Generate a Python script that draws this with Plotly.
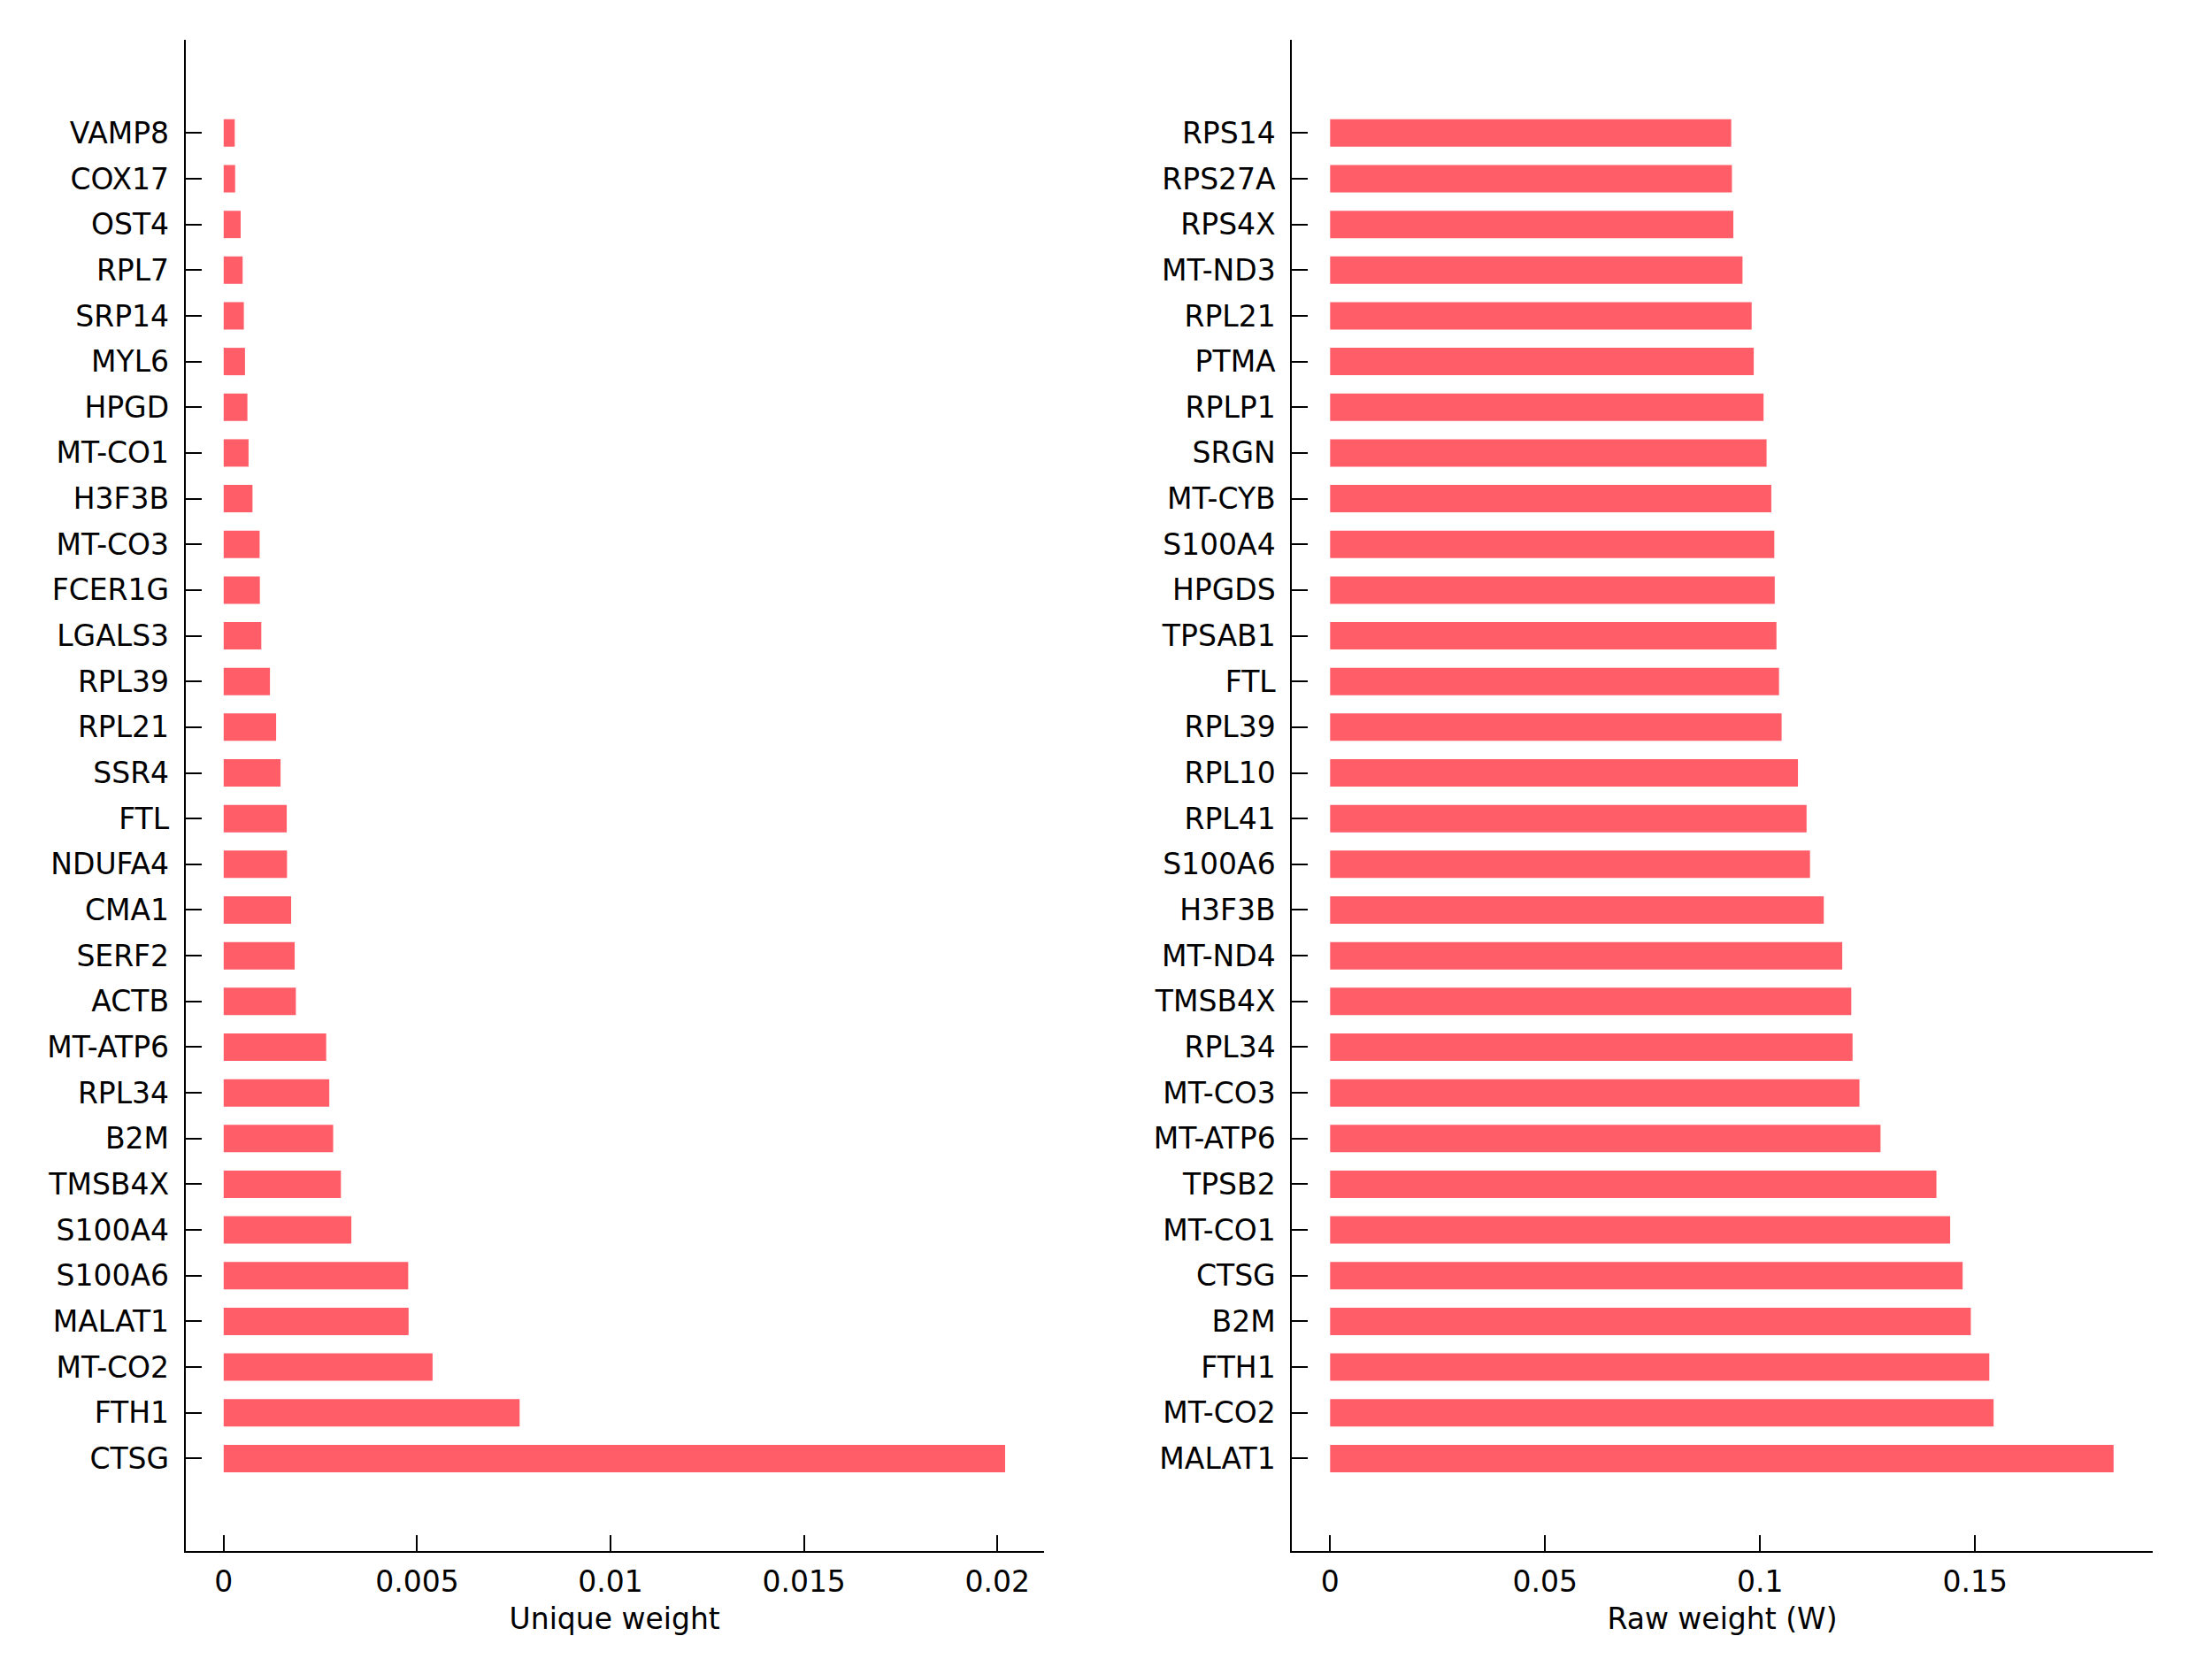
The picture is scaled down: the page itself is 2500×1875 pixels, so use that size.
import plotly.graph_objects as go

# Left panel: unique weight (top-to-bottom order as displayed)
unique_genes = ["VAMP8", "COX17", "OST4", "RPL7", "SRP14", "MYL6", "HPGD", "MT-CO1",
                "H3F3B", "MT-CO3", "FCER1G", "LGALS3", "RPL39", "RPL21", "SSR4", "FTL",
                "NDUFA4", "CMA1", "SERF2", "ACTB", "MT-ATP6", "RPL34", "B2M", "TMSB4X",
                "S100A4", "S100A6", "MALAT1", "MT-CO2", "FTH1", "CTSG"]
unique_values = [0.000286, 0.000296, 0.000439, 0.00049, 0.000521, 0.000551, 0.000613, 0.000643,
                 0.000745, 0.000929, 0.000935, 0.000972, 0.001196, 0.001356, 0.00147, 0.00163,
                 0.001637, 0.001744, 0.001835, 0.001866, 0.00265, 0.00273, 0.00283, 0.00303,
                 0.0033, 0.00477, 0.00478, 0.0054, 0.00765, 0.0202]

# Right panel: raw weight (W) (top-to-bottom order as displayed)
raw_genes = ["RPS14", "RPS27A", "RPS4X", "MT-ND3", "RPL21", "PTMA", "RPLP1", "SRGN",
             "MT-CYB", "S100A4", "HPGDS", "TPSAB1", "FTL", "RPL39", "RPL10", "RPL41",
             "S100A6", "H3F3B", "MT-ND4", "TMSB4X", "RPL34", "MT-CO3", "MT-ATP6", "TPSB2",
             "MT-CO1", "CTSG", "B2M", "FTH1", "MT-CO2", "MALAT1"]
raw_values = [0.09328, 0.09344, 0.09377, 0.0959, 0.09803, 0.09852, 0.1008, 0.1015,
              0.1026, 0.1033, 0.1034, 0.1038, 0.1044, 0.105, 0.1088, 0.1108,
              0.1116, 0.1148, 0.1191, 0.1212, 0.1215, 0.1231, 0.128, 0.141,
              0.1442, 0.1471, 0.149, 0.1533, 0.1543, 0.1822]

unique_ticks = [0, 0.005, 0.01, 0.015, 0.02]
unique_ticklabels = ["0", "0.005", "0.01", "0.015", "0.02"]
raw_ticks = [0, 0.05, 0.1, 0.15]
raw_ticklabels = ["0", "0.05", "0.1", "0.15"]

BAR = "#FF5E69"
FONT = "DejaVu Sans"
FS = 33

fig = go.Figure()
fig.add_trace(go.Bar(y=unique_genes[::-1], x=unique_values[::-1], orientation="h",
                     marker=dict(color=BAR, line=dict(width=0)), width=0.6,
                     xaxis="x", yaxis="y", showlegend=False))
fig.add_trace(go.Bar(y=raw_genes[::-1], x=raw_values[::-1], orientation="h",
                     marker=dict(color=BAR, line=dict(width=0)), width=0.6,
                     xaxis="x2", yaxis="y2", showlegend=False))

ydom = [0.0692, 0.9803]
common_x = dict(showline=True, linecolor="black", linewidth=2, ticks="inside", ticklen=18,
                tickwidth=2, tickcolor="black", showgrid=False, zeroline=False,
                tickfont=dict(family=FONT, size=FS, color="black"), ticklabelstandoff=4)
common_y = dict(showline=True, linecolor="black", linewidth=2, ticks="inside", ticklen=18,
                tickwidth=2, tickcolor="black", showgrid=False, zeroline=False,
                type="category", range=[-2.03, 31.04], domain=ydom,
                tickfont=dict(family=FONT, size=FS, color="black"), ticklabelstandoff=10)

fig.update_layout(
    width=2500, height=1875,
    margin=dict(l=0, r=0, t=0, b=0),
    paper_bgcolor="white", plot_bgcolor="white",
    bargap=0.4,
    xaxis=dict(domain=[0.08068, 0.46868], anchor="y", range=[-0.000986, 0.0212],
               tickvals=unique_ticks, ticktext=unique_ticklabels,
               title=dict(text="Unique weight", font=dict(family=FONT, size=FS, color="black"),
                          standoff=12),
               **common_x),
    yaxis=dict(anchor="x", categoryorder="array", categoryarray=unique_genes[::-1], **common_y),
    xaxis2=dict(domain=[0.58092, 0.96988], anchor="y2", range=[-0.00885, 0.19124],
                tickvals=raw_ticks, ticktext=raw_ticklabels,
                title=dict(text="Raw weight (W)", font=dict(family=FONT, size=FS, color="black"),
                           standoff=12),
                **common_x),
    yaxis2=dict(anchor="x2", categoryorder="array", categoryarray=raw_genes[::-1], **common_y),
)

fig.write_html("out.html")
